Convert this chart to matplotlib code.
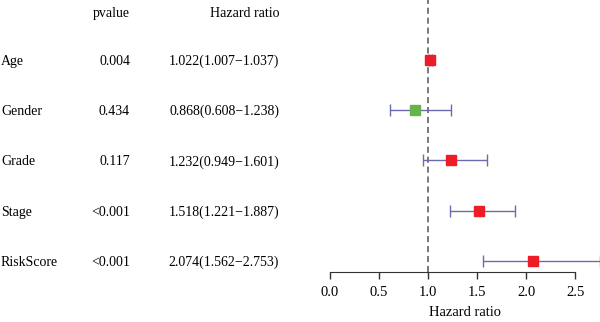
import matplotlib
matplotlib.use("Agg")
from matplotlib import pyplot as plt
from matplotlib.transforms import blended_transform_factory

variables = ["Age", "Gender", "Grade", "Stage", "RiskScore"]
pvalues = ["0.004", "0.434", "0.117", "<0.001", "<0.001"]
hr = [1.022, 0.868, 1.232, 1.518, 2.074]
hr_low = [1.007, 0.608, 0.949, 1.221, 1.562]
hr_high = [1.037, 1.238, 1.601, 1.887, 2.753]
xticks = [0.0, 0.5, 1.0, 1.5, 2.0, 2.5]

plt.rcParams['font.family'] = ['Liberation Serif', 'DejaVu Serif']
fig = plt.figure(figsize=(6, 3.22), dpi=100)
# forest panel: x from 330px to 600px, y from 0 to 272px
ax = fig.add_axes([330 / 600, 50 / 322, 270 / 600, 272 / 322])

n = len(variables)
ys = [n - i for i in range(n)]
ax.set_xlim(0, 2.753)
ax.set_ylim(0.78, 6.19)

ax.axvline(1.0, color='#555555', ls=(0, (4, 2.5)), lw=1.1, zorder=1)
for y, h, lo, hi in zip(ys, hr, hr_low, hr_high):
    col = '#ee1c25' if h > 1 else '#66b445'
    ax.errorbar(h, y, xerr=[[h - lo], [hi - h]], fmt='none', ecolor='#6b6bb0',
                elinewidth=1.0, capsize=4, capthick=1.0, zorder=2, clip_on=False)
    ax.plot(h, y, 's', color=col, ms=7.5, zorder=3, clip_on=False)

for s in ['top', 'right', 'left']:
    ax.spines[s].set_visible(False)
ax.spines['bottom'].set_bounds(0, 2.5)
ax.spines['bottom'].set_color('#333333')
ax.set_yticks([])
ax.set_xticks(xticks)
ax.set_xticklabels([f"{t:.1f}" for t in xticks], fontsize=10.5)
ax.tick_params(axis='x', length=5, width=1, color='#333333', pad=5)
ax.set_xlabel("Hazard ratio", fontsize=10.5, labelpad=5)

tr = blended_transform_factory(fig.transFigure, ax.transData)
fs = 10
hdr_y = 5.95
fig.text(130 / 600, hdr_y, "pvalue", transform=tr, ha='right', va='center_baseline', fontsize=fs)
fig.text(279 / 600, hdr_y, "Hazard ratio", transform=tr, ha='right', va='center_baseline', fontsize=fs)
for y, v, p, h, lo, hi in zip(ys, variables, pvalues, hr, hr_low, hr_high):
    fig.text(1 / 600, y, v, transform=tr, ha='left', va='center_baseline', fontsize=fs)
    fig.text(130 / 600, y, p, transform=tr, ha='right', va='center_baseline', fontsize=fs)
    fig.text(279 / 600, y, f"{h:.3f}({lo:.3f}\u2212{hi:.3f})", transform=tr,
             ha='right', va='center_baseline', fontsize=fs)

fig.savefig("out.png", dpi=100)
